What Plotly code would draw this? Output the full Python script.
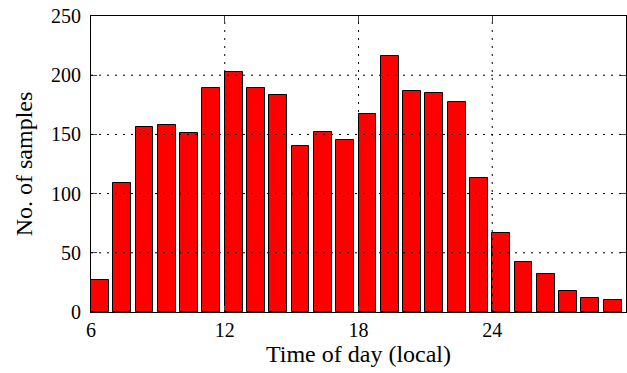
import plotly.graph_objects as go

hours = list(range(6, 30))
counts = [27, 109, 156, 158, 151, 189, 203, 189, 183, 140, 152, 145,
          167, 216, 187, 185, 177, 113, 67, 42, 32, 18, 12, 10]
x_ticks = [6, 12, 18, 24]
y_ticks = [0, 50, 100, 150, 200, 250]

font = "Liberation Serif"

fig = go.Figure(go.Bar(
    x=[h + 0.4 for h in hours], y=counts, width=0.8,
    marker=dict(color="#ff0000", line=dict(color="black", width=1)),
))

shapes = []
for v in y_ticks[1:-1]:
    shapes.append(dict(type="line", xref="x", yref="y", x0=6, x1=30, y0=v, y1=v,
                       line=dict(color="black", width=1, dash="2px,6px"), layer="above"))
for v in x_ticks[1:]:
    shapes.append(dict(type="line", xref="x", yref="y", x0=v, x1=v, y0=0, y1=250,
                       line=dict(color="black", width=1, dash="2px,6px"), layer="above"))

fig.update_layout(
    width=627, height=373,
    margin=dict(l=91, r=1, t=16, b=61),
    plot_bgcolor="white", paper_bgcolor="white",
    font=dict(family=font, size=20, color="black"),
    showlegend=False, bargap=0,
    shapes=shapes,
    xaxis=dict(range=[6, 30], tickvals=x_ticks, ticks="inside", ticklen=6,
               showline=True, linecolor="black", linewidth=1, mirror="ticks",
               showgrid=False, zeroline=False, layer="above traces",
               title=dict(text="Time of day (local)", font=dict(size=24), standoff=4)),
    yaxis=dict(range=[0, 250], tickvals=y_ticks, ticks="inside", ticklen=6,
               showline=True, linecolor="black", linewidth=1, mirror="ticks",
               showgrid=False, zeroline=False, layer="above traces",
               ticklabelstandoff=5,
               title=dict(text="No. of samples", font=dict(size=24), standoff=11)),
)

fig.write_html("out.html")
